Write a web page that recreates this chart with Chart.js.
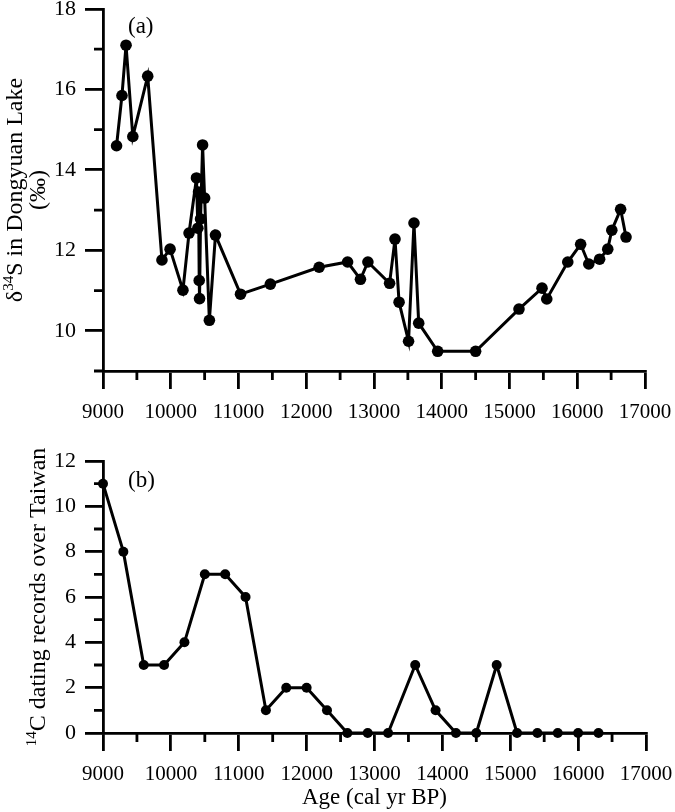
<!DOCTYPE html>
<html>
<head>
<meta charset="utf-8">
<script src="https://cdn.jsdelivr.net/npm/chart.js@4.4.1/dist/chart.umd.min.js"></script>
<style>
    html, body { margin: 0; padding: 0; background: #fff; }
    #top, #bottom { position: absolute; left: 0; width: 675px; }
    #top { top: 0; height: 430px; }
    #bottom { top: 430px; height: 382px; }
</style>
</head>
<body>
<div id="top"><canvas id="sulfurChart" width="675" height="430"></canvas></div>
<div id="bottom"><canvas id="c14Chart" width="675" height="382"></canvas></div>
<script>
// ================= DATA =================
// (a) sulfur isotope record, Dongyuan Lake
const sulfurAge = [9200, 9280, 9340, 9440, 9660, 9870, 9990, 10180, 10270, 10380,
    10400, 10410, 10420, 10425, 10440, 10470, 10500, 10570, 10660, 11030,
    11470, 12190, 12610, 12800, 12910, 13230, 13310, 13370, 13510, 13590,
    13660, 13940, 14500, 15140, 15480, 15550, 15860, 16050, 16170, 16330,
    16450, 16510, 16640, 16720];
const sulfurD34S = [14.6, 15.85, 17.1, 14.83, 16.33, 11.76, 12.03, 11.01, 12.43, 13.8,
    12.55, 13.45, 11.25, 10.8, 12.78, 14.62, 13.3, 10.26, 12.38, 10.91,
    11.16, 11.58, 11.71, 11.28, 11.71, 11.18, 12.28, 10.71, 9.74, 12.68,
    10.19, 9.49, 9.49, 10.54, 11.06, 10.79, 11.71, 12.15, 11.66, 11.78,
    12.03, 12.5, 13.02, 12.33];

// (b) number of 14C dates over Taiwan
const c14Age = [9000, 9300, 9600, 9900, 10200, 10500, 10800, 11100, 11400, 11700,
    12000, 12300, 12600, 12900, 13200, 13600, 13900, 14200, 14500, 14800,
    15100, 15400, 15700, 16000, 16300];
const c14Count = [11, 8, 3, 3, 4, 7, 7, 6, 1, 2,
    2, 1, 0, 0, 0, 3, 1, 0, 0, 3,
    0, 0, 0, 0, 0];

// ticks
const ageMajor = [9000, 10000, 11000, 12000, 13000, 14000, 15000, 16000, 17000];
const ageMinor = [9500, 10500, 11500, 12500, 13500, 14500, 15500, 16500];
const sulfurMajor = [10, 12, 14, 16, 18];
const sulfurMinor = [9, 11, 13, 15, 17];
const countMajor = [0, 2, 4, 6, 8, 10, 12];
const countMinor = [1, 3, 5, 7, 9, 11];

// ================= STYLE =================
const SERIF = "'Liberation Serif', 'Times New Roman', serif";
const INK = "#000";
const MAJOR_LEN = 18;
const MINOR_LEN = 9;
const AXIS_W = 2.8;
const TITLE_SIZE = 24;

// ================= HELPERS =================
const toPoints = (xs, ys) => xs.map((x, i) => ({ x, y: ys[i] }));

// text pieces: [{t, sup}] drawn on one baseline, centred on (0,0) along x
function drawRich(ctx, parts, size) {
    const supSize = Math.round(size * 0.64);
    const widths = parts.map(p => {
        ctx.font = `${p.sup ? supSize : size}px ${SERIF}`;
        return ctx.measureText(p.t).width;
    });
    let x = -widths.reduce((a, b) => a + b, 0) / 2;
    parts.forEach((p, i) => {
        ctx.font = `${p.sup ? supSize : size}px ${SERIF}`;
        ctx.fillText(p.t, x, p.sup ? -size * 0.36 : 0);
        x += widths[i];
    });
}

// ================= PLUGIN =================
// minor ticks, panel tag and the axis titles
const paperPlugin = {
    id: "paper",
    afterDraw(chart, args, opts) {
        const ctx = chart.ctx;
        const xs = chart.scales.x;
        const ys = chart.scales.y;

        ctx.save();
        ctx.strokeStyle = INK;
        ctx.lineWidth = AXIS_W;
        ctx.beginPath();
        opts.xMinor.forEach(v => {
            const px = xs.getPixelForValue(v);
            ctx.moveTo(px, xs.top);
            ctx.lineTo(px, xs.top + MINOR_LEN);
        });
        opts.yMinor.forEach(v => {
            const py = ys.getPixelForValue(v);
            ctx.moveTo(ys.right, py);
            ctx.lineTo(ys.right - MINOR_LEN, py);
        });
        ctx.stroke();

        ctx.fillStyle = INK;
        ctx.textAlign = "left";
        ctx.textBaseline = "middle";
        ctx.font = `23px ${SERIF}`;
        ctx.fillText(opts.tag, opts.tagX, opts.tagY);

        // rotated y titles
        ctx.textBaseline = "alphabetic";
        const midY = (chart.chartArea.top + chart.chartArea.bottom) / 2;
        opts.yTitle.forEach(line => {
            ctx.save();
            ctx.translate(line.x, midY);
            ctx.rotate(-Math.PI / 2);
            drawRich(ctx, line.parts, TITLE_SIZE);
            ctx.restore();
        });

        if (opts.xTitle) {
            ctx.textAlign = "center";
            ctx.font = `23px ${SERIF}`;
            ctx.fillText(opts.xTitle,
                (chart.chartArea.left + chart.chartArea.right) / 2, opts.xTitleY);
        }
        ctx.restore();
    }
};

// ================= AXES =================
function ageAxis(height) {
    return {
        type: "linear",
        min: 9000,
        max: 17000,
        afterBuildTicks: s => { s.ticks = ageMajor.map(v => ({ value: v })); },
        afterFit: s => { s.height = height; s.paddingLeft = 0; s.paddingRight = 0; },
        ticks: {
            color: INK,
            padding: 11,
            maxRotation: 0,
            autoSkip: false,
            font: { family: SERIF, size: 21 },
            callback: v => String(v)
        },
        grid: {
            drawOnChartArea: false,
            drawTicks: true,
            tickLength: MAJOR_LEN,
            color: INK,
            lineWidth: AXIS_W
        },
        border: { display: true, color: INK, width: AXIS_W }
    };
}

function valueAxis(min, max, major) {
    return {
        type: "linear",
        min,
        max,
        afterBuildTicks: s => { s.ticks = major.map(v => ({ value: v })); },
        afterFit: s => { s.width = 103; s.paddingTop = 0; s.paddingBottom = 0; },
        ticks: {
            color: INK,
            padding: 9,
            autoSkip: false,
            font: { family: SERIF, size: 22 }
        },
        grid: {
            drawOnChartArea: false,
            drawTicks: true,
            tickLength: MAJOR_LEN,
            color: INK,
            lineWidth: AXIS_W
        },
        border: { display: true, color: INK, width: AXIS_W }
    };
}

function seriesStyle(radius) {
    return {
        showLine: true,
        tension: 0,
        borderColor: INK,
        borderWidth: 3,
        backgroundColor: INK,
        pointBackgroundColor: INK,
        pointBorderWidth: 0,
        pointRadius: radius,
        clip: false
    };
}

// ================= CHART (a) =================
new Chart(document.getElementById("sulfurChart"), {
    type: "scatter",
    data: {
        datasets: [{ data: toPoints(sulfurAge, sulfurD34S), ...seriesStyle(5.8) }]
    },
    plugins: [paperPlugin],
    options: {
        responsive: false,
        animation: false,
        events: [],
        layout: { padding: { left: 0, right: 30, top: 9, bottom: 0 } },
        scales: {
            x: ageAxis(59),
            y: valueAxis(9, 18, sulfurMajor)
        },
        plugins: {
            legend: { display: false },
            tooltip: { enabled: false },
            paper: {
                xMinor: ageMinor,
                yMinor: sulfurMinor,
                tag: "(a)",
                tagX: 128,
                tagY: 27,
                yTitle: [
                    { x: 22, parts: [{ t: "δ" }, { t: "34", sup: true }, { t: "S in Dongyuan Lake" }] },
                    { x: 45, parts: [{ t: "(‰)" }] }
                ]
            }
        }
    }
});

// ================= CHART (b) =================
new Chart(document.getElementById("c14Chart"), {
    type: "scatter",
    data: {
        datasets: [{ data: toPoints(c14Age, c14Count), ...seriesStyle(5) }]
    },
    plugins: [paperPlugin],
    options: {
        responsive: false,
        animation: false,
        events: [],
        layout: { padding: { left: 0, right: 29, top: 31, bottom: 0 } },
        scales: {
            x: ageAxis(79),
            y: valueAxis(0, 12, countMajor)
        },
        plugins: {
            legend: { display: false },
            tooltip: { enabled: false },
            paper: {
                xMinor: ageMinor,
                yMinor: countMinor,
                tag: "(b)",
                tagX: 128,
                tagY: 51,
                yTitle: [
                    { x: 45, parts: [{ t: "14", sup: true }, { t: "C dating records over Taiwan" }] }
                ],
                xTitle: "Age (cal yr BP)",
                xTitleY: 374
            }
        }
    }
});
</script>
</body>
</html>
